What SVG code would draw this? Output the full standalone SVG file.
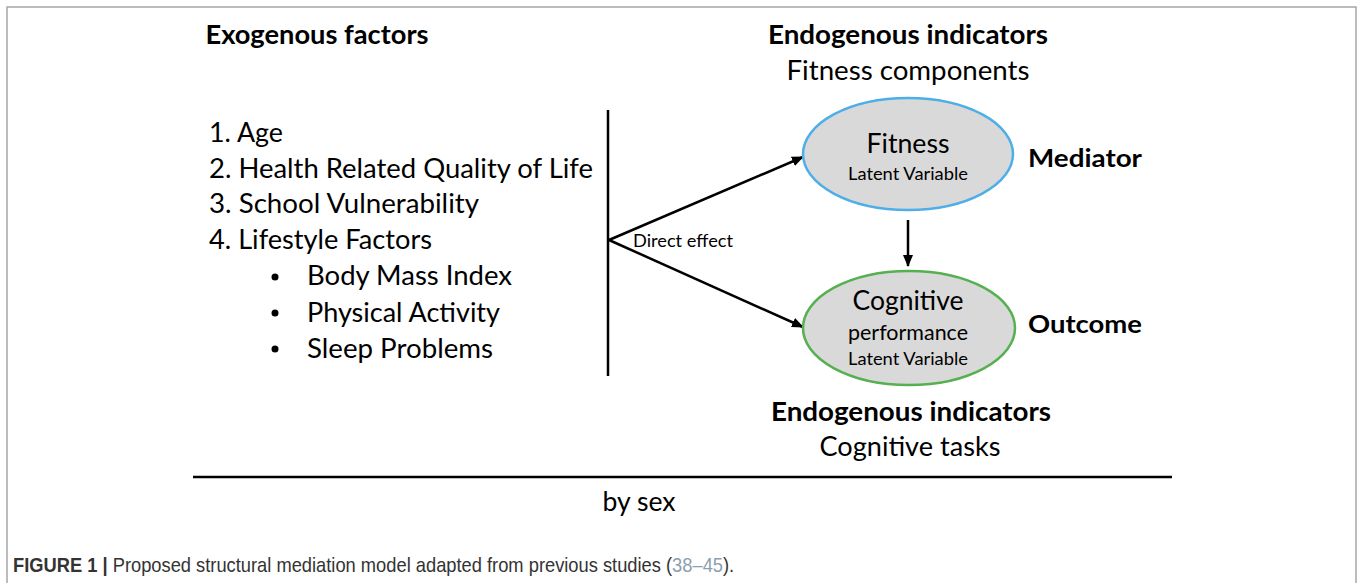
<svg xmlns="http://www.w3.org/2000/svg" width="1359" height="583" viewBox="0 0 1359 583">
<style>
.t{font-family:Lato,"Open Sans","Liberation Sans",sans-serif;fill:#000}
.b{font-weight:bold}
.ln{stroke:#000;stroke-width:2.5;fill:none}
.cap{font-family:"Liberation Sans",Arial,sans-serif;font-size:20px;fill:#333}
</style>
<defs>
<marker id="ah" viewBox="0 0 12 10" refX="11" refY="5" markerWidth="12" markerHeight="10" markerUnits="userSpaceOnUse" orient="auto">
<path d="M0,0 L12,5 L0,10 z" fill="#000"/>
</marker>
</defs>
<rect width="1359" height="583" fill="#fff"/>
<path d="M7,590 V7 H1356 V590" fill="none" stroke="#a6a6a6" stroke-width="1.5"/>

<g id="headers">
<text class="t b" x="317" y="44" font-size="26" text-anchor="middle" textLength="223" lengthAdjust="spacingAndGlyphs">Exogenous factors</text>
<text class="t b" x="908" y="44" font-size="26" text-anchor="middle" textLength="280" lengthAdjust="spacingAndGlyphs">Endogenous indicators</text>
<text class="t" x="908" y="80" font-size="26" text-anchor="middle" textLength="243" lengthAdjust="spacingAndGlyphs">Fitness components</text>
<text class="t b" x="911" y="421" font-size="26" text-anchor="middle" textLength="280" lengthAdjust="spacingAndGlyphs">Endogenous indicators</text>
<text class="t" x="910" y="456" font-size="26" text-anchor="middle" textLength="181" lengthAdjust="spacingAndGlyphs">Cognitive tasks</text>
</g>

<g id="exogenous-list">
<text class="t" x="209" y="142" font-size="26" textLength="74" lengthAdjust="spacingAndGlyphs">1. Age</text>
<text class="t" x="209" y="178" font-size="26" textLength="384" lengthAdjust="spacingAndGlyphs">2. Health Related Quality of Life</text>
<text class="t" x="209" y="213" font-size="26" textLength="270" lengthAdjust="spacingAndGlyphs">3. School Vulnerability</text>
<text class="t" x="209" y="249" font-size="26" textLength="223" lengthAdjust="spacingAndGlyphs">4. Lifestyle Factors</text>
<circle cx="275" cy="277" r="3.5" fill="#000"/>
<circle cx="275" cy="313" r="3.5" fill="#000"/>
<circle cx="275" cy="349" r="3.5" fill="#000"/>
<text class="t" x="307" y="285" font-size="26" textLength="205" lengthAdjust="spacingAndGlyphs">Body Mass Index</text>
<text class="t" x="307" y="322" font-size="26" textLength="193" lengthAdjust="spacingAndGlyphs">Physical Activity</text>
<text class="t" x="307" y="358" font-size="26" textLength="186" lengthAdjust="spacingAndGlyphs">Sleep Problems</text>
</g>

<g id="connectors">
<line class="ln" x1="608" y1="110" x2="608" y2="376"/>
<line class="ln" x1="609" y1="240" x2="803" y2="157" marker-end="url(#ah)"/>
<line class="ln" x1="609" y1="240" x2="803" y2="327" marker-end="url(#ah)"/>
<line class="ln" x1="908" y1="220" x2="908" y2="266" marker-end="url(#ah)"/>
<text class="t" x="633" y="247" font-size="17" textLength="100" lengthAdjust="spacingAndGlyphs">Direct effect</text>
</g>

<g id="fitness">
<ellipse cx="908" cy="154" rx="105" ry="56" fill="#d9d9d9" stroke="#4eaee8" stroke-width="2.5"/>
<text class="t" x="908" y="153" font-size="26" text-anchor="middle" textLength="83" lengthAdjust="spacingAndGlyphs">Fitness</text>
<text class="t" x="908" y="180" font-size="18" text-anchor="middle" textLength="120" lengthAdjust="spacingAndGlyphs">Latent Variable</text>
</g>
<g id="mediator-label">
<text class="t b" x="1028" y="167" font-size="24" textLength="114" lengthAdjust="spacingAndGlyphs">Mediator</text>
</g>

<g id="cognitive">
<ellipse cx="909" cy="328" rx="106" ry="57" fill="#d9d9d9" stroke="#55b04f" stroke-width="2.5"/>
<text class="t" x="908" y="310" font-size="27" text-anchor="middle" textLength="111" lengthAdjust="spacingAndGlyphs">Cognitive</text>
<text class="t" x="908" y="340" font-size="21" text-anchor="middle" textLength="120" lengthAdjust="spacingAndGlyphs">performance</text>
<text class="t" x="908" y="365" font-size="18" text-anchor="middle" textLength="120" lengthAdjust="spacingAndGlyphs">Latent Variable</text>
</g>
<g id="outcome-label">
<text class="t b" x="1028" y="333" font-size="24" textLength="114" lengthAdjust="spacingAndGlyphs">Outcome</text>
</g>

<g id="by-sex">
<line x1="193" y1="477" x2="1172" y2="477" stroke="#000" stroke-width="2.5"/>
<text class="t" x="639" y="511" font-size="26" text-anchor="middle" textLength="73" lengthAdjust="spacingAndGlyphs">by sex</text>
</g>

<g id="caption" transform="translate(13,572) scale(0.916,1)">
<text class="cap" x="0" y="0"><tspan font-weight="bold">FIGURE 1 | </tspan>Proposed structural mediation model adapted from previous studies (<tspan style="fill:#8aa0b0">38–45</tspan>).</text>
</g>
</svg>
